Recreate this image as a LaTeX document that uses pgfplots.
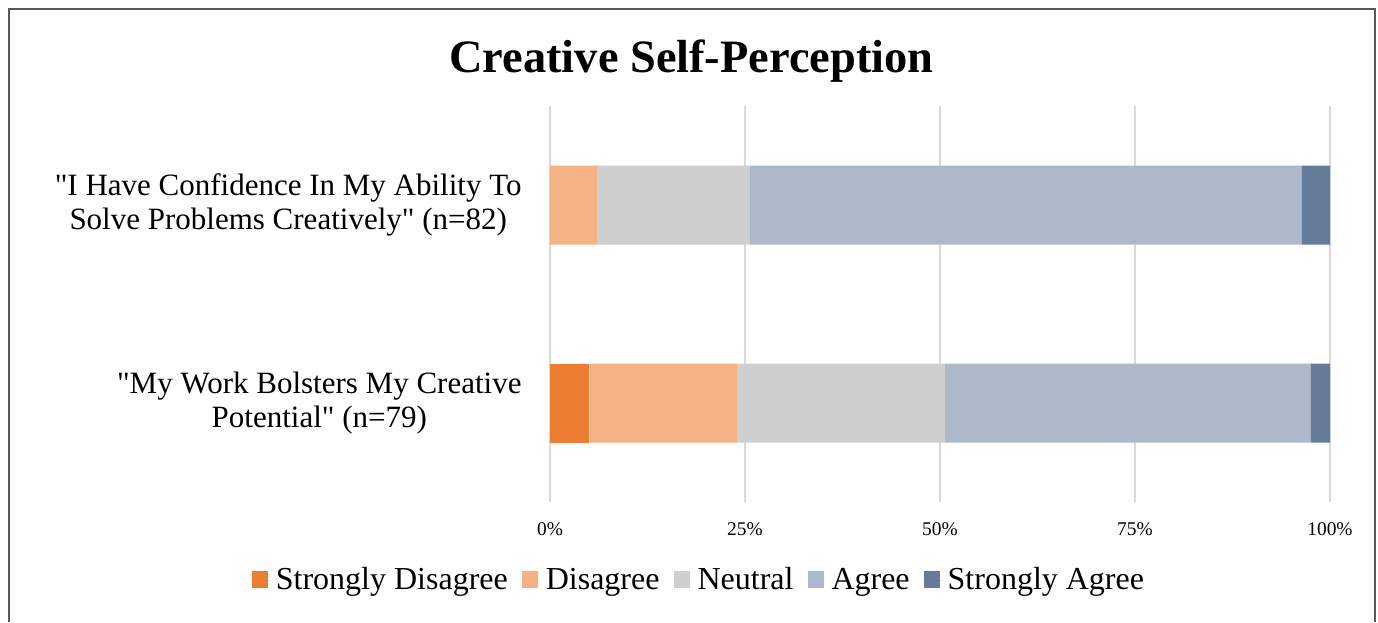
\documentclass[border=0pt]{standalone}
\usepackage{pgfplots}
\pgfplotsset{compat=1.18}
\usepackage{fontspec}
\setmainfont{Liberation Serif}[Ligatures=TeXOff]
\definecolor{cSD}{HTML}{ED7D31}
\definecolor{cD}{HTML}{F4B183}
\definecolor{cN}{HTML}{CFCFCF}
\definecolor{cA}{HTML}{ADB9CA}
\definecolor{cSA}{HTML}{647B99}
\definecolor{cGrid}{HTML}{D9D9D9}
\definecolor{cFrame}{HTML}{595959}
\begin{document}
\begin{tikzpicture}
\begin{axis}[
  xbar stacked,
  width=390pt, height=198pt, scale only axis,
  xmin=0, xmax=100, ymin=0.5, ymax=2.5,
  bar width=39.5pt,
  axis line style={draw=none},
  major tick length=0pt,
  xtick={0,25,50,75,100},
  xticklabels={0\%,25\%,50\%,75\%,100\%},
  xmajorgrids, grid style={color=cGrid, line width=1pt},
  xticklabel style={font=\fontsize{9.7}{11}\selectfont, inner sep=0pt, anchor=north, yshift=-10pt},
  ytick={1,2},
  yticklabels={{"My Work Bolsters My Creative\\Potential" (n=79)},{"I Have Confidence In My Ability To\\Solve Problems Creatively" (n=82)}},
  yticklabel style={font=\fontsize{15.5}{17}\selectfont, align=center, inner sep=0pt, anchor=east, xshift=-14pt},
  clip=false,
  legend columns=5,
  legend style={draw=none, at={(rel axis cs:0.1923,-0.1970)}, anchor=center,
    font=\fontsize{16}{17}\selectfont, inner sep=0pt,
    /tikz/every even column/.append style={column sep=5pt}},
  legend image code/.code={\path[#1] (0pt,-4pt) rectangle (8pt,4.5pt); \path (0pt,0pt) -- (10pt,0pt);},
]
\addplot[fill=cSD, draw=none] coordinates {(0,2) (5.06,1)};
\addplot[fill=cD, draw=none] coordinates {(6.10,2) (18.99,1)};
\addplot[fill=cN, draw=none] coordinates {(19.51,2) (26.58,1)};
\addplot[fill=cA, draw=none] coordinates {(70.73,2) (46.84,1)};
\addplot[fill=cSA, draw=none] coordinates {(3.66,2) (2.53,1)};
\legend{Strongly Disagree, Disagree, Neutral, Agree, Strongly Agree}
\node[font=\bfseries\fontsize{23.2}{26}\selectfont, anchor=center] at (rel axis cs:0.1814,1.1135) {Creative Self-Perception};
\draw[cFrame, line width=1pt] (rel axis cs:-0.6942,-0.3030) -- (rel axis cs:-0.6942,1.2462) -- (rel axis cs:1.0571,1.2462) -- (rel axis cs:1.0571,-0.3030);
\path (rel axis cs:-0.70513,-0.3030) rectangle (rel axis cs:1.06154,1.2677);
\end{axis}
\end{tikzpicture}
\end{document}
